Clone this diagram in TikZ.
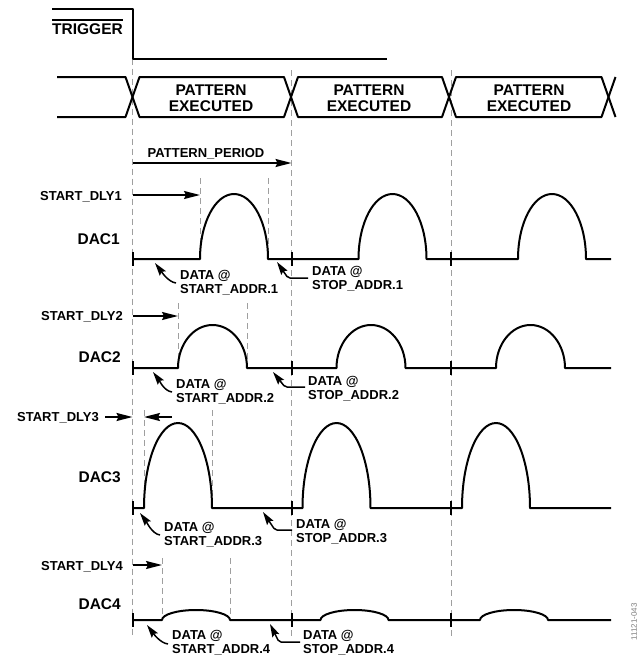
\documentclass[tikz,border=0pt]{standalone}
\usepackage{fontspec}
\setmainfont{Liberation Sans}
\usetikzlibrary{arrows.meta}
\newcommand{\dacwave}[4]{% #1 baseline y, #2 width, #3 height, #4 first start x
  \draw[wave] (132.5,#1) foreach \p in {#4,#4+158.5,#4+318} {
    -- ({\p},#1)
    .. controls ({\p},{#1-0.5523*#3}) and ({\p+#2/2*(1-0.5523)},{#1-#3}) .. ({\p+#2/2},{#1-#3})
    .. controls ({\p+#2/2*(1+0.5523)},{#1-#3}) and ({\p+#2},{#1-0.5523*#3}) .. ({\p+#2},#1)
  } -- (611,#1);
  \foreach \q in {132.5,291.5,451} \draw[wave] (\q,{#1-7}) -- (\q,{#1+7});
}
\begin{document}
\begin{tikzpicture}[x=1pt,y=-1pt,
  wave/.style={line width=2pt, line join=round},
  bus/.style={line width=2pt, line join=round},
  guide/.style={gray!75, line width=0.9pt, dash pattern=on 6pt off 4pt},
  arr/.style={line width=1.7pt, -{Stealth[length=16pt,width=8pt,inset=2pt]}},
  lead/.style={line width=1.5pt, -{Stealth[length=13pt,width=7.5pt,inset=2pt]}},
  big/.style={font=\fontsize{15.5}{16}\selectfont\bfseries, inner sep=0pt},
  small/.style={font=\fontsize{13}{14}\selectfont\bfseries, inner sep=0pt},
]
\useasboundingbox[fill=white] (0,0) rectangle (639,656);

% ---- dashed guides
\draw[guide] (132.5,58.5) -- (132.5,637);
\draw[guide] (291.5,70) -- (291.5,637);
\draw[guide] (451,70) -- (451,637);
\draw[guide] (200,178) -- (200,259);
\draw[guide] (268,178) -- (268,259);
\draw[guide] (178,303) -- (178,368);
\draw[guide] (247,303) -- (247,368);
\draw[guide] (144,410) -- (144,508);
\draw[guide] (212,410) -- (212,508);
\draw[guide] (162,558) -- (162,620);
\draw[guide] (230,558) -- (230,620);

% ---- trigger
\node[big, anchor=base west] (trig) at (52,34) {TRIGGER};
\draw[line width=1.4pt] ([yshift=3pt]trig.north west) -- ([yshift=3pt]trig.north east);
\draw[wave] (52,9) -- (132.5,9) -- (132.5,58.5) -- (387,58.5);

% ---- bus
\draw[bus] (57,77) -- (125.5,77) -- (139.5,117) -- (284,117) -- (298,77) -- (442,77) -- (456,117) -- (601.5,117) -- (615.5,77);
\draw[bus] (57,117) -- (125.5,117) -- (139.5,77) -- (284,77) -- (298,117) -- (442,117) -- (456,77) -- (601.5,77) -- (615.5,117);
\node[big, anchor=base] (pe1) at (211,95) {\begin{tabular}[t]{@{}c@{}}PATTERN\\EXECUTED\end{tabular}};
\node[big, anchor=base] (pe2) at (369,95) {\begin{tabular}[t]{@{}c@{}}PATTERN\\EXECUTED\end{tabular}};
\node[big, anchor=base] (pe3) at (529,95) {\begin{tabular}[t]{@{}c@{}}PATTERN\\EXECUTED\end{tabular}};

% ---- pattern period
\node[small, anchor=base] (pp) at (206,157) {PATTERN\_PERIOD};
\coordinate (ppa) at (132.5,163);
\coordinate (ppb) at (291.5,163);
\draw[arr] (ppa) -- (ppb);

% ---- waveforms
\dacwave{259}{68}{65}{200}
\dacwave{368}{69}{43}{178}
\dacwave{508}{68}{85}{144}
\dacwave{620}{68}{10}{162}

% ---- DAC labels
\node[big, anchor=base east] (dac1) at (120,244) {DAC1};
\node[big, anchor=base east] (dac2) at (121,362) {DAC2};
\node[big, anchor=base east] (dac3) at (121,482) {DAC3};
\node[big, anchor=base east] (dac4) at (121,609) {DAC4};

% ---- start delays
\node[small, anchor=base east] (sd1) at (122,200) {START\_DLY1};
\coordinate (sd1a) at (132.5,195); \coordinate (sd1b) at (200,195);
\draw[arr] (sd1a) -- (sd1b);
\node[small, anchor=base east] (sd2) at (123,320) {START\_DLY2};
\coordinate (sd2a) at (132.5,316); \coordinate (sd2b) at (178,316);
\draw[arr] (sd2a) -- (sd2b);
\node[small, anchor=base east] (sd3) at (99,421) {START\_DLY3};
\coordinate (sd3a) at (105,417); \coordinate (sd3b) at (132.5,417);
\coordinate (sd3c) at (172,417); \coordinate (sd3d) at (144,417);
\draw[arr] (sd3a) -- (sd3b);
\draw[arr] (sd3c) -- (sd3d);
\node[small, anchor=base east] (sd4) at (123,570) {START\_DLY4};
\coordinate (sd4a) at (132.5,565); \coordinate (sd4b) at (162,565);
\draw[arr] (sd4a) -- (sd4b);

% ---- start address labels
\node[small, anchor=base west] (sa1) at (180,279) {\begin{tabular}[t]{@{}l@{}}DATA @\\START\_ADDR.1\end{tabular}};
\coordinate (sa1e) at (176,283); \coordinate (sa1t) at (155,263);
\draw[lead] (sa1e) .. controls (168,282) and (161,271) .. (sa1t);
\node[small, anchor=base west] (sa2) at (176,388) {\begin{tabular}[t]{@{}l@{}}DATA @\\START\_ADDR.2\end{tabular}};
\coordinate (sa2e) at (172,392); \coordinate (sa2t) at (153,372);
\draw[lead] (sa2e) .. controls (164,391) and (159,380) .. (sa2t);
\node[small, anchor=base west] (sa3) at (164,531) {\begin{tabular}[t]{@{}l@{}}DATA @\\START\_ADDR.3\end{tabular}};
\coordinate (sa3e) at (160,535); \coordinate (sa3t) at (140,513);
\draw[lead] (sa3e) .. controls (152,534) and (146,521) .. (sa3t);
\node[small, anchor=base west] (sa4) at (172,639) {\begin{tabular}[t]{@{}l@{}}DATA @\\START\_ADDR.4\end{tabular}};
\coordinate (sa4e) at (168,644); \coordinate (sa4t) at (147,625);
\draw[lead] (sa4e) .. controls (160,643) and (153,633) .. (sa4t);

% ---- stop address labels
\node[small, anchor=base west] (sp1) at (312,275) {\begin{tabular}[t]{@{}l@{}}DATA @\\STOP\_ADDR.1\end{tabular}};
\coordinate (sp1h) at (308,278); \coordinate (sp1k) at (288,278); \coordinate (sp1t) at (277,262);
\draw[lead, rounded corners=2pt] (sp1h) -- (sp1k) -- (sp1t);
\node[small, anchor=base west] (sp2) at (308,385) {\begin{tabular}[t]{@{}l@{}}DATA @\\STOP\_ADDR.2\end{tabular}};
\coordinate (sp2h) at (305,387); \coordinate (sp2k) at (285,387); \coordinate (sp2t) at (273,372);
\draw[lead, rounded corners=2pt] (sp2h) -- (sp2k) -- (sp2t);
\node[small, anchor=base west] (sp3) at (296,528) {\begin{tabular}[t]{@{}l@{}}DATA @\\STOP\_ADDR.3\end{tabular}};
\coordinate (sp3h) at (292,530); \coordinate (sp3k) at (275,530); \coordinate (sp3t) at (263,512);
\draw[lead, rounded corners=2pt] (sp3h) -- (sp3k) -- (sp3t);
\node[small, anchor=base west] (sp4) at (303,639) {\begin{tabular}[t]{@{}l@{}}DATA @\\STOP\_ADDR.4\end{tabular}};
\coordinate (sp4h) at (300,642); \coordinate (sp4k) at (279,642); \coordinate (sp4t) at (270,624);
\draw[lead, rounded corners=2pt] (sp4h) -- (sp4k) -- (sp4t);

% ---- figure id
\node[font=\fontsize{8}{9}\selectfont, text=gray, rotate=90, anchor=east, inner sep=0pt] (fid) at (634,603) {11121-043};
\end{tikzpicture}
\end{document}
